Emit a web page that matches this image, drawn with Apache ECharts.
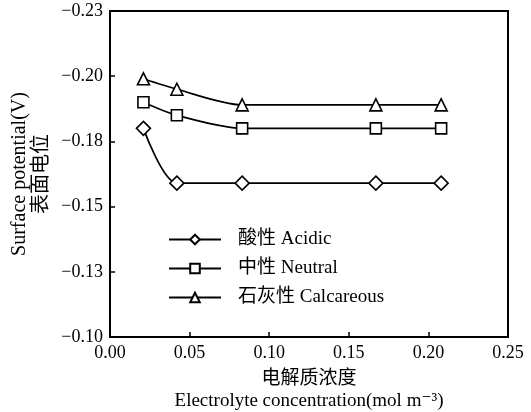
<!DOCTYPE html>
<html>
<head>
<meta charset="utf-8">
<script src="https://cdn.jsdelivr.net/npm/echarts@6/dist/echarts.min.js"></script>
<style>
html,body{margin:0;padding:0;background:#fff;}
#chart{width:531px;height:412px;}
</style>
</head>
<body>
<div id="chart"></div>
<script>
var concentrations = [0.021, 0.042, 0.083, 0.167, 0.208];
var acidic = [-0.180, -0.159, -0.159, -0.159, -0.159];
var neutral = [-0.190, -0.185, -0.180, -0.180, -0.180];
var calcareous = [-0.199, -0.195, -0.189, -0.189, -0.189];
var seriesNames = ['酸性 Acidic', '中性 Neutral', '石灰性 Calcareous'];
var yTickLabels = ['\u22120.23', '\u22120.20', '\u22120.18', '\u22120.15', '\u22120.13', '\u22120.10'];
var xTickLabels = ['0.00', '0.05', '0.10', '0.15', '0.20', '0.25'];

var yMin = -0.225, yMax = -0.1, yStep = 0.025;
var xMin = 0, xMax = 0.25, xStep = 0.05;

function pairs(xs, ys) { return xs.map(function (x, i) { return [x, ys[i]]; }); }

var FONT = '"Liberation Serif", "DejaVu Serif", "Noto Sans CJK SC", serif';

var chart = echarts.init(document.getElementById('chart'));
function mkSeries(name, data, symbol, size) {
  return {
    name: name, type: 'line', data: pairs(concentrations, data),
    smooth: 0.28, symbol: symbol, symbolSize: size, showSymbol: true,
    lineStyle: { color: '#000', width: 1.7 },
    itemStyle: { color: '#fff', borderColor: '#000', borderWidth: 1.6 },
    emphasis: { disabled: true }, z: 3
  };
}
chart.setOption({
  animation: false,
  backgroundColor: '#fff',
  grid: { left: 110, right: 23, top: 11, bottom: 75, outerBoundsMode: 'none', show: true, borderColor: '#000', borderWidth: 2, backgroundColor: 'transparent' },
  legend: {
    orient: 'vertical', left: 163, top: 225, itemWidth: 52, itemHeight: 12, itemGap: 10,
    data: seriesNames,
    textStyle: { fontFamily: FONT, fontSize: 19, color: '#000', padding: [0, 0, 0, 12] }
  },
  xAxis: {
    type: 'value', min: xMin, max: xMax, interval: xStep,
    axisLine: { show: true, lineStyle: { color: '#000', width: 2 } },
    axisTick: { show: true, inside: true, length: 5, lineStyle: { color: '#000', width: 1.5 } },
    splitLine: { show: false },
    axisLabel: {
      margin: 7, fontFamily: FONT, fontSize: 18, color: '#000',
      formatter: function (v) { return xTickLabels[Math.round((v - xMin) / xStep)]; }
    },
    name: '电解质浓度\nElectrolyte concentration(mol m\u207B\u00B3)',
    nameLocation: 'middle', nameGap: 31, nameMoveOverlap: false,
    nameTextStyle: { fontFamily: FONT, fontSize: 19, color: '#000', lineHeight: 22 }
  },
  yAxis: {
    type: 'value', min: yMin, max: yMax, interval: yStep, inverse: true,
    axisLine: { show: true, lineStyle: { color: '#000', width: 2 } },
    axisTick: { show: true, inside: true, length: 5, lineStyle: { color: '#000', width: 1.5 } },
    splitLine: { show: false },
    axisLabel: {
      margin: 7, fontFamily: FONT, fontSize: 18, color: '#000',
      formatter: function (v) { return yTickLabels[Math.round((v - yMin) / yStep)]; }
    },
    name: 'Surface potential(V)\n表面电位',
    nameLocation: 'middle', nameRotate: 90, nameGap: 57, nameMoveOverlap: false,
    nameTextStyle: { fontFamily: FONT, fontSize: 20, color: '#000', lineHeight: 22 }
  },
  series: [
    mkSeries(seriesNames[0], acidic, 'diamond', 14),
    mkSeries(seriesNames[1], neutral, 'rect', 11),
    mkSeries(seriesNames[2], calcareous, 'triangle', 12)
  ]
});
</script>
</body>
</html>
